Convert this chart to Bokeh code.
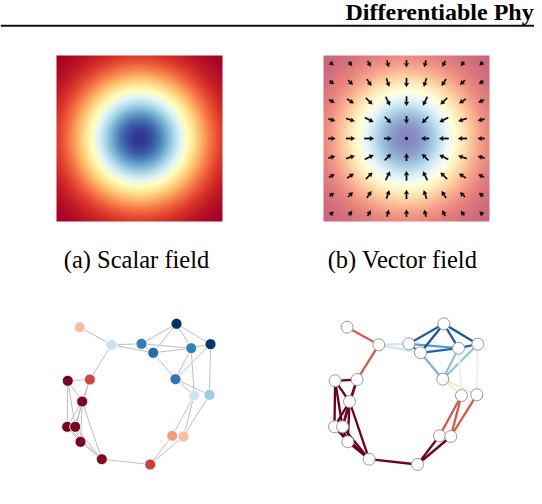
import numpy as np
from bokeh.plotting import figure
from bokeh.models import Range1d, ColumnDataSource, LinearColorMapper, Span
from bokeh.core.properties import value
from bokeh.embed import file_html
from bokeh.resources import INLINE

# ---------------- data ----------------
header_text = ["Differentiable Phy"]
caption_texts = ["(a) Scalar field", "(b) Vector field"]

# scalar field: Gaussian well sampled on a square grid (field units)
field_axis = np.linspace(-1.0, 1.0, 166)
field_sigma = 0.5
# quiver grid (field units)
arrow_axis = np.linspace(-0.9, 0.9, 9)

# graph layout (shared by panels c and d), local pixel units, y downward
node_id = list(range(1, 21))
node_x = [13.3, 45.0, 75.0, 86.7, 110.0, 124.7, 144.0, 109.0, 127.7, 143.0,
          105.7, 117.0, 83.7, 35.3, 14.0, 0.7, 8.7, 15.7, 1.3, 23.3]
node_y = [3.7, 21.3, 20.3, 29.3, 0.3, 24.7, 20.7, 55.7, 72.0, 71.3,
          112.3, 113.0, 141.0, 135.7, 118.3, 103.3, 103.3, 78.0, 57.3, 56.0]
# scalar signal on nodes (panel c)
node_value = [-0.3, 0.22, 0.7, 0.78, 1.0, 0.68, 0.97, 0.72, 0.2, 0.36,
              -0.42, -0.3, -0.68, -0.92, -0.96, -0.96, -0.96, -0.94, -0.96, -0.66]
# edges and edge signal (panel d)
edge_from = [1, 2, 2, 2, 3, 3, 3, 4, 4, 5, 5, 6, 4, 6, 7, 6, 7, 8, 8,
             9, 9, 10, 11, 12, 13, 14, 14, 14, 14, 15, 15, 15, 16, 16, 17, 17, 18, 18, 19, 17]
edge_to = [2, 20, 3, 4, 4, 5, 6, 5, 6, 6, 7, 7, 8, 8, 8, 9, 10, 9, 10,
           11, 12, 12, 13, 13, 14, 15, 16, 17, 18, 16, 17, 18, 18, 19, 19, 18, 19, 20, 20, 20]
edge_value = [-0.6, -0.62, 0.18, 0.18, 0.7, 0.82, 0.55, 0.85, 0.8, 0.82, 0.85, 0.8,
              0.45, 0.4, 0.4, 0.06, 0.06, -0.12, -0.12,
              -0.62, -0.62, -0.62, -0.97, -0.97, -0.98, -1.0, -1.0, -1.0, -0.98,
              -1.0, -1.0, -1.0, -1.0, -1.0, -1.0, -1.0, -0.98, -0.95, -0.95, -0.95]

# ---------------- styles / layout ----------------
RDYLBU = ["#313695", "#4575b4", "#74add1", "#abd9e9", "#e0f3f8", "#ffffbf",
          "#fee090", "#fdae61", "#f46d43", "#d73027", "#a50026"]
RDBU = ["#67001f", "#b2182b", "#d6604d", "#f4a582", "#fddbc7", "#f7f7f7",
        "#d1e5f0", "#92c5de", "#4393c3", "#2166ac", "#053061"]


def interp_pal(pal, n=256):
    rgb = np.array([[int(c[i:i + 2], 16) for i in (1, 3, 5)] for c in pal], float)
    t = np.linspace(0, 1, len(pal))
    tt = np.linspace(0, 1, n)
    out = np.stack([np.interp(tt, t, rgb[:, k]) for k in range(3)], axis=1)
    return ["#%02x%02x%02x" % tuple(int(round(v)) for v in row) for row in out]


H = 504  # reference height; data units == reference pixels


def Y(v):
    return H - v


W_FIG, H_FIG = 534, 488
p = figure(width=W_FIG, height=H_FIG, x_range=Range1d(0, W_FIG), y_range=Range1d(H - H_FIG, H),
           output_backend="svg", toolbar_location=None, min_border=0,
           x_axis_location=None, y_axis_location=None)
p.grid.visible = False
p.outline_line_color = None
p.background_fill_color = "white"

serif = value("Liberation Serif")

# header
p.text(x=[345], y=[Y(11)], text=header_text, text_font=serif, text_font_size=value("24px"),
       text_font_style="bold", text_color="black", text_baseline="alphabetic", text_align="left")
p.add_layout(Span(location=Y(25.3), dimension="width", line_color="#111111", line_width=2))

# scalar field
UU, VV = np.meshgrid(field_axis, field_axis)
RR2 = UU ** 2 + VV ** 2
field = 1.0 - np.exp(-RR2 / (2 * field_sigma ** 2))
fmap = LinearColorMapper(palette=interp_pal(RDYLBU), low=float(field.min()), high=float(field.max()))

SIDE = 166.0
PA_X, PB_X, P_TOP = 56.0, 323.0, 55.0
p.image(image=[field], x=PA_X, y=Y(P_TOP + SIDE), dw=SIDE, dh=SIDE, color_mapper=fmap)
p.image(image=[field], x=PB_X, y=Y(P_TOP + SIDE), dw=SIDE, dh=SIDE, color_mapper=fmap,
        global_alpha=0.6)

# quiver (negative gradient)
AU, AV = np.meshgrid(arrow_axis, arrow_axis)
AR2 = AU ** 2 + AV ** 2
gu = -AU / field_sigma ** 2 * np.exp(-AR2 / (2 * field_sigma ** 2))
gv = -AV / field_sigma ** 2 * np.exp(-AR2 / (2 * field_sigma ** 2))
mag = np.hypot(gu, gv)
mmax = mag.max()
half = SIDE / 2
cx, cy = PB_X + half, Y(P_TOP + half)
xs, ys, dotx, doty = [], [], [], []
w0, hw0, hl0, hal0 = 1.4, 4.6, 4.0, 3.5
for u, v, a, b, m in zip(AU.ravel(), AV.ravel(), gu.ravel(), gv.ravel(), mag.ravel()):
    px, py = cx + u * half, cy + v * half
    if m < 1e-9:
        dotx.append(px); doty.append(py)
        continue
    L = 3.5 + 6.0 * m / mmax
    d = np.array([a, b]) / m
    n = np.array([-d[1], d[0]])
    k = min(1.0, L / hl0)
    w, hw, hl, hal = w0 * k, hw0 * k, hl0 * k, hal0 * k
    pts = [(0, -w / 2), (L - hal, -w / 2), (L - hl, -hw / 2), (L, 0),
           (L - hl, hw / 2), (L - hal, w / 2), (0, w / 2)]
    tail = np.array([px, py]) - d * L / 2
    poly = [tail + s * d + t * n for s, t in pts]
    xs.append([q[0] for q in poly]); ys.append([q[1] for q in poly])
p.patches(xs=xs, ys=ys, fill_color="black", line_color="black", line_width=0.3)
p.scatter(x=dotx, y=doty, size=2.5, color="black")

# captions
p.text(x=[PA_X + half - 3, PB_X + half - 4], y=[Y(259), Y(259)], text=caption_texts,
       text_font=serif, text_font_size=value("24.5px"), text_color="black",
       text_baseline="alphabetic", text_align="center")

# graphs
bmap = LinearColorMapper(palette=interp_pal(RDBU), low=-1.0, high=1.0)
G_TOP = 323.0
for ox, mode in ((66.0, "node"), (333.3, "edge")):
    gx = [ox + v for v in node_x]
    gy = [Y(G_TOP + v) for v in node_y]
    es = ColumnDataSource(dict(
        x0=[gx[i - 1] for i in edge_from], y0=[gy[i - 1] for i in edge_from],
        x1=[gx[j - 1] for j in edge_to], y1=[gy[j - 1] for j in edge_to], v=edge_value))
    ns = ColumnDataSource(dict(x=gx, y=gy, v=node_value))
    if mode == "node":
        p.segment(x0="x0", y0="y0", x1="x1", y1="y1", source=es, line_color="#b8b8b8",
                  line_width=1, line_alpha=0.9)
        p.scatter(x="x", y="y", source=ns, size=11,
                  fill_color={"field": "v", "transform": bmap},
                  line_color="white", line_width=1, line_alpha=0.8)
    else:
        p.segment(x0="x0", y0="y0", x1="x1", y1="y1", source=es,
                  line_color={"field": "v", "transform": bmap}, line_width=2.3)
        p.scatter(x="x", y="y", source=ns, size=12, fill_color="white",
                  line_color="#9a9a9a", line_width=1)

open("out.html", "w").write(file_html(p, INLINE))
